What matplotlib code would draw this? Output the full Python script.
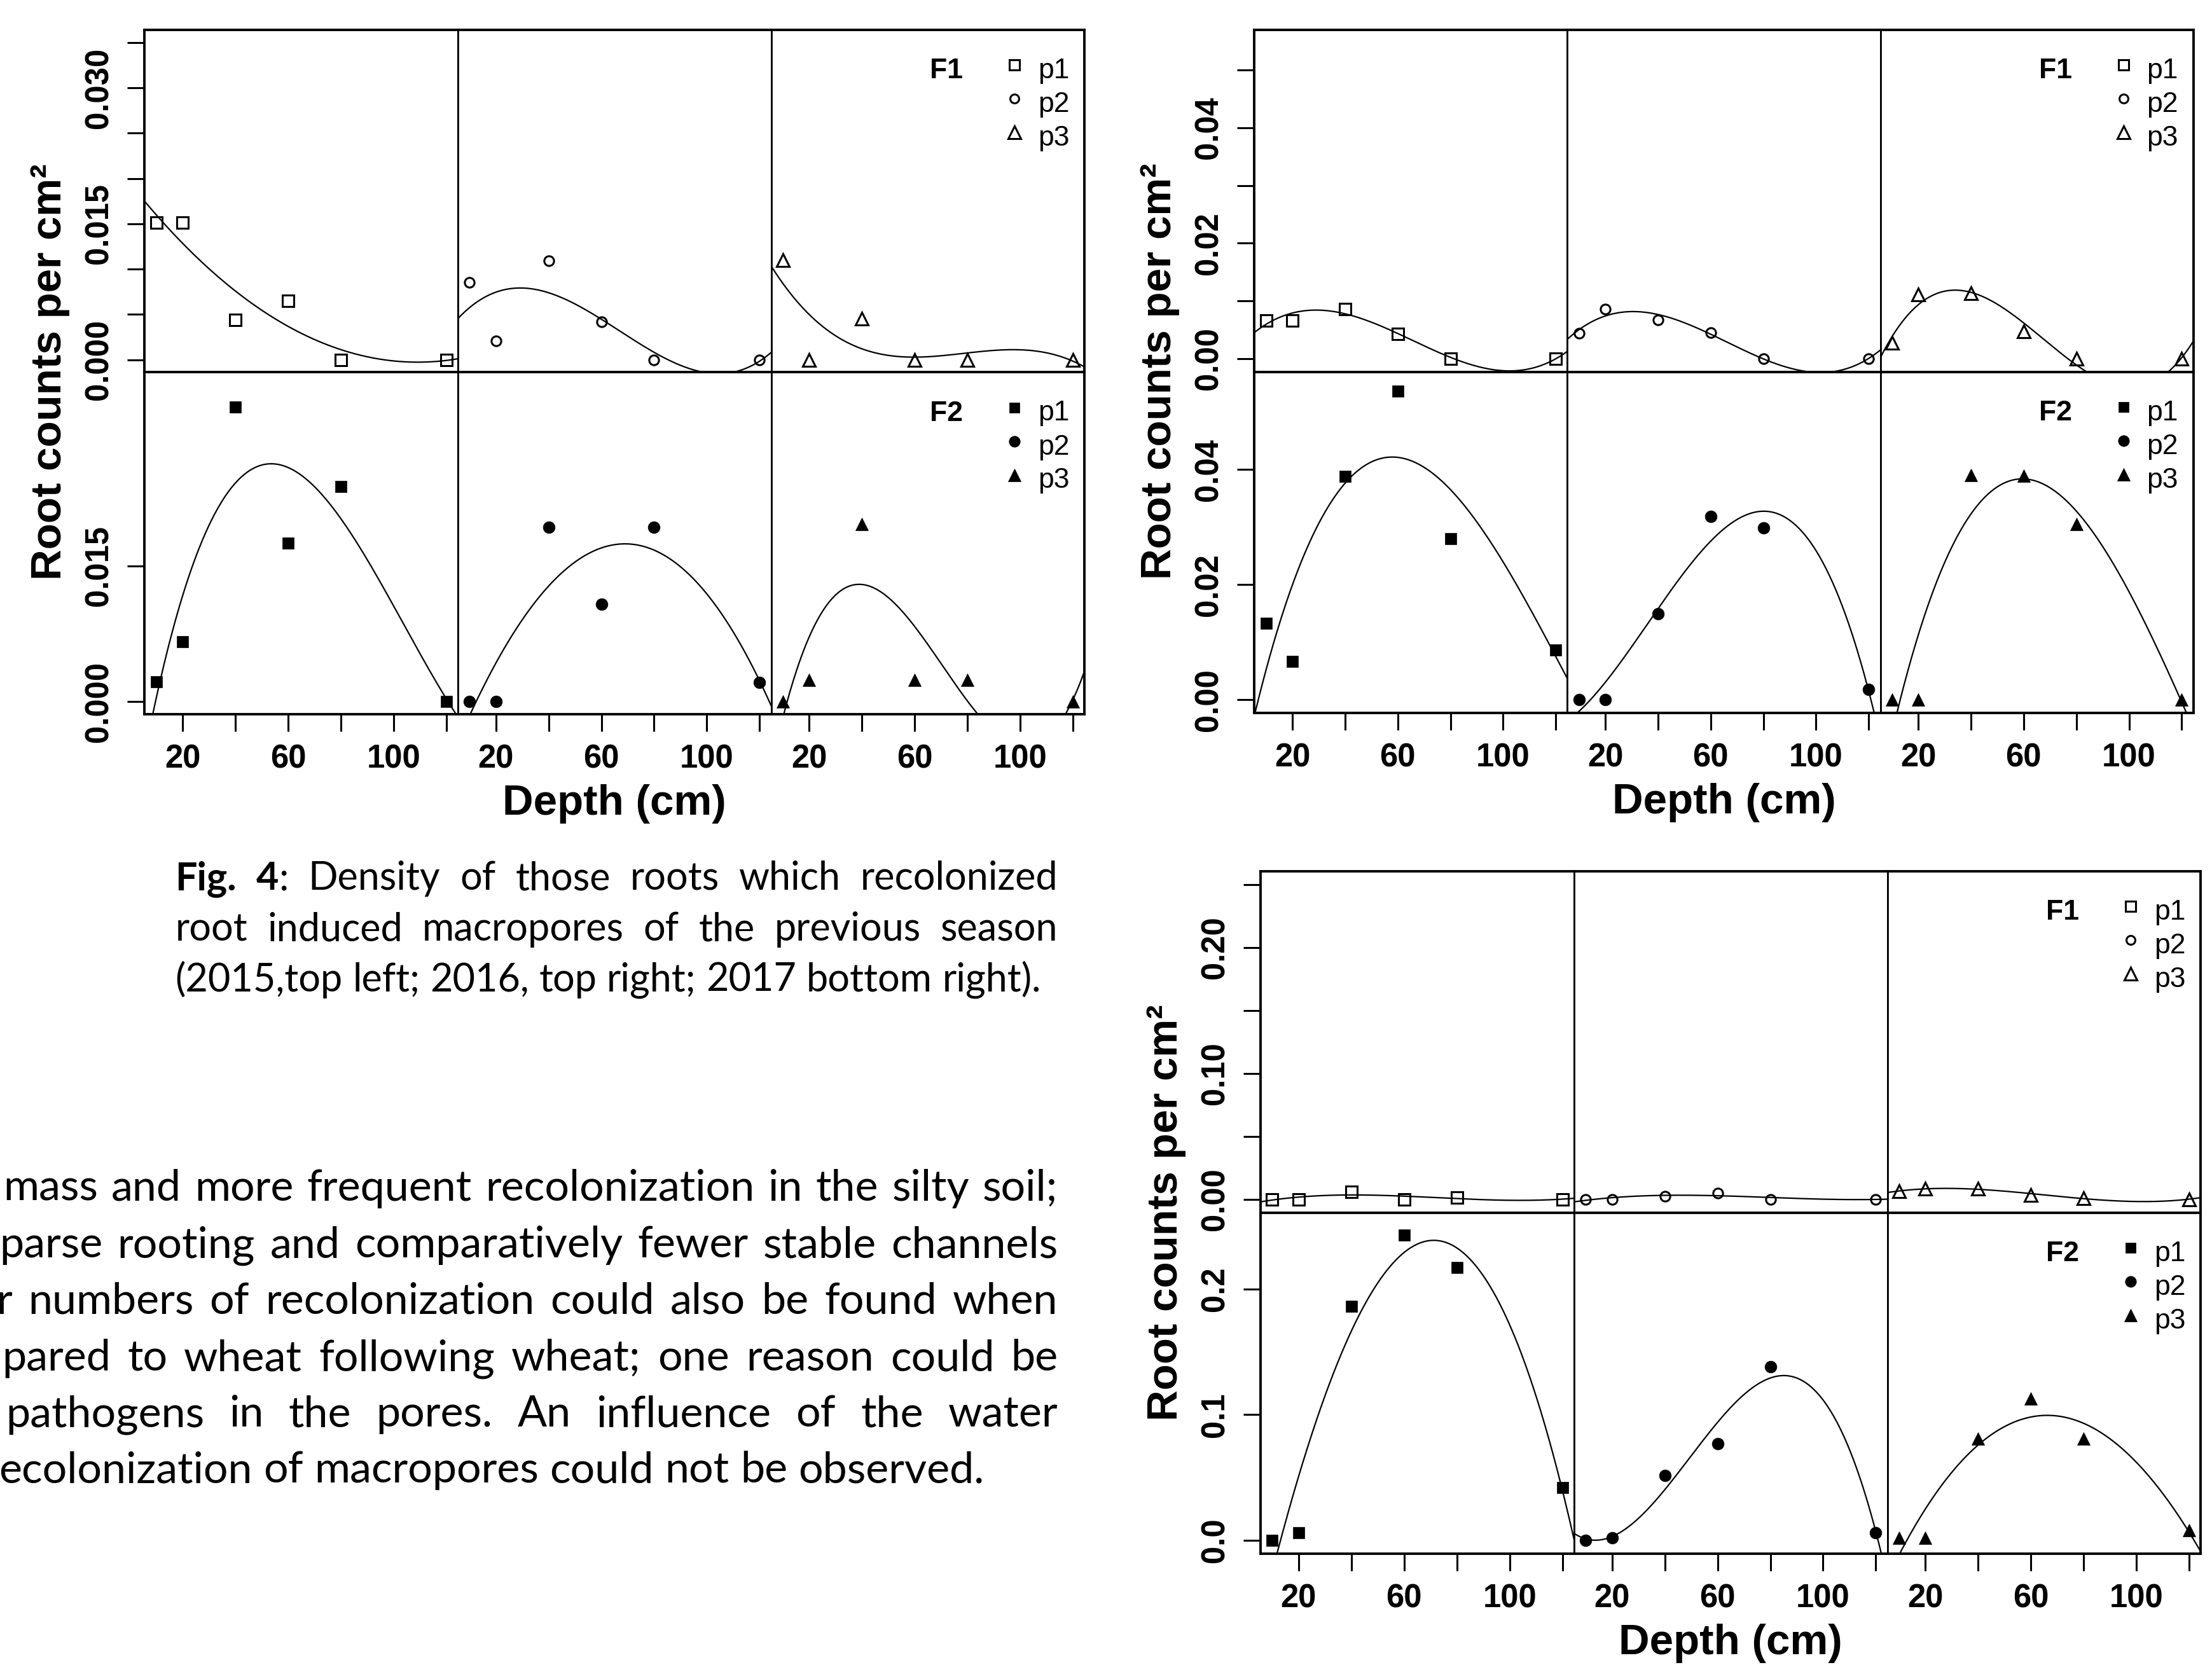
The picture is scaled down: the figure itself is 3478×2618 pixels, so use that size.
import numpy as np
import matplotlib
matplotlib.use("Agg")
import matplotlib.pyplot as plt

W, H = 3478, 2618
PLOT_FONT = ["Liberation Sans", "DejaVu Sans"]
TEXT_FONT = ["Lato", "DejaVu Sans"]

# ---- data: root counts per cm2 by depth (cm), columns p1 / p2 / p3 ----
depth = [10, 20, 40, 60, 80, 120]
pos_labels = ["p1", "p2", "p3"]
x_ticks = [20, 40, 60, 80, 100, 120]
x_labels = ["20", "", "60", "", "100", ""]

# 2015 (top left)
y2015_F1 = [[0.0151, 0.0151, 0.0044, 0.0065, 0.0, 0.0],
            [0.0085, 0.0021, 0.0109, 0.0042, 0.0, 0.0],
            [0.0110, 0.0, 0.0045, 0.0, 0.0, 0.0]]
y2015_F2 = [[0.0022, 0.0066, 0.0326, 0.0175, 0.0238, 0.0],
            [0.0, 0.0, 0.0193, 0.0108, 0.0193, 0.0021],
            [0.0, 0.0024, 0.0196, 0.0024, 0.0024, 0.0]]
# 2016 (top right)
y2016_F1 = [[0.0066, 0.0066, 0.0086, 0.0043, 0.0, 0.0],
            [0.0044, 0.0086, 0.0067, 0.0045, 0.0, 0.0],
            [0.0027, 0.0111, 0.0113, 0.0047, 0.0, 0.0]]
y2016_F2 = [[0.0133, 0.0066, 0.0388, 0.0536, 0.0280, 0.0086],
            [0.0, 0.0, 0.0150, 0.0319, 0.0299, 0.0018],
            [0.0, 0.0, 0.0390, 0.0389, 0.0305, 0.0]]
# 2017 (bottom right)
y2017_F1 = [[0.0, 0.0, 0.0060, 0.0, 0.0015, 0.0],
            [0.0, 0.0, 0.0025, 0.0050, 0.0, 0.0],
            [0.0064, 0.0084, 0.0084, 0.0035, 0.0010, 0.0]]
y2017_F2 = [[0.0, 0.006, 0.186, 0.243, 0.217, 0.042],
            [0.0, 0.002, 0.0515, 0.077, 0.138, 0.006],
            [0.002, 0.002, 0.081, 0.113, 0.081, 0.008]]

ticks2015 = [[0, 0.005, 0.010, 0.015, 0.020, 0.025, 0.030, 0.035], [0, 0.015]]
labels2015 = [["0.000", "", "", "0.015", "", "", "0.030", ""], ["0.000", "0.015"]]
ticks2016 = [[0, 0.01, 0.02, 0.03, 0.04, 0.05], [0, 0.02, 0.04]]
labels2016 = [["0.00", "", "0.02", "", "0.04", ""], ["0.00", "0.02", "0.04"]]
ticks2017 = [[0, 0.05, 0.10, 0.15, 0.20, 0.25], [0, 0.1, 0.2]]
labels2017 = [["0.00", "", "0.10", "", "0.20", ""], ["0.0", "0.1", "0.2"]]

caption_lines = [
    [[("Fig.", "bold")], [("4", "bold"), (":", "normal")], "Density", "of", "those",
     "roots", "which", "recolonized"],
    "root induced macropores of the previous season".split(),
    "(2015,top left; 2016, top right; 2017 bottom right).".split(),
]
body_lines = [
    "mass and more frequent recolonization in the silty soil;",
    "parse rooting and comparatively fewer stable channels",
    "r numbers of recolonization could also be found when",
    "pared to wheat following wheat; one reason could be",
    "pathogens in the pores. An influence of the water",
    "ecolonization of macropores could not be observed.",
]

# ---- layout helpers (pixel coords of the full image) ----
fig = plt.figure(figsize=(W / 100, H / 100), dpi=100)
fig.patch.set_facecolor("white")


def fx(px):
    return px / W


def fy(py):
    return 1 - py / H


XLIM = (5.6, 124.4)
MARKERS = ["s", "o", "^"]
MS_OPEN = [12.5, 11.0, 15.0]
MS_FILL = [13.0, 13.5, 15.0]
TICK_FS = 36.5


def draw_group(box, rows_data, yticks, ylabels, ylim, tags=("F1", "F2")):
    left, right, top, mid, bottom = box
    cw = (right - left) / 3
    for r, (t, b) in enumerate([(top, mid), (mid, bottom)]):
        for c in range(3):
            l = left + c * cw
            ax = fig.add_axes([fx(l), fy(b), cw / W, (b - t) / H])
            yv = rows_data[r][c]
            if r == 0:
                ax.plot(depth, yv, ls="none", marker=MARKERS[c], ms=MS_OPEN[c],
                        mfc="none", mec="black", mew=2.2, clip_on=False)
            else:
                ax.plot(depth, yv, ls="none", marker=MARKERS[c], ms=MS_FILL[c],
                        mfc="black", mec="black", mew=0.5, clip_on=False)
            coef = np.polyfit(depth, yv, 3)
            xs = np.linspace(XLIM[0], XLIM[1], 400)
            ax.plot(xs, np.polyval(coef, xs), color="black", lw=1.6)
            ax.set_xlim(XLIM)
            ax.set_ylim(ylim)
            for name, sp in ax.spines.items():
                sp.set_linewidth(2.0)
            ax.spines["top"].set_linewidth(2.8)
            ax.spines["bottom"].set_linewidth(2.8)
            if c == 0:
                ax.spines["left"].set_linewidth(2.8)
            if c == 2:
                ax.spines["right"].set_linewidth(2.8)
            if r == 1:
                ax.set_xticks(x_ticks)
                ax.set_xticklabels(x_labels, fontsize=TICK_FS, fontweight="bold",
                                   family=PLOT_FONT)
            else:
                ax.set_xticks([])
            if c == 0:
                ax.set_yticks(yticks[r])
                ax.set_yticklabels(ylabels[r], rotation=90, va="center",
                                   fontsize=TICK_FS, fontweight="bold", family=PLOT_FONT)
            else:
                ax.set_yticks([])
            ax.tick_params(direction="out", length=19.5, width=2.2, pad=14)

            # key in the right-hand panel
            if c == 2:
                rx = right
                rows_y = [t + 55, t + 108, t + 161]
                fig.text(fx(rx - 217), fy(rows_y[0] + 21), tags[r], ha="center",
                         va="baseline", fontsize=32, fontweight="bold", family=PLOT_FONT)
                for k in range(3):
                    if r == 0:
                        fig.add_artist(plt.Line2D([fx(rx - 110)], [fy(rows_y[k])],
                                                  marker=MARKERS[k], ms=MS_OPEN[k] - 1,
                                                  mfc="none", mec="black", mew=2.2,
                                                  ls="none"))
                    else:
                        fig.add_artist(plt.Line2D([fx(rx - 110)], [fy(rows_y[k])],
                                                  marker=MARKERS[k], ms=MS_FILL[k] - 1,
                                                  mfc="black", mec="black", mew=0.5,
                                                  ls="none"))
                    fig.text(fx(rx - 73), fy(rows_y[k] + 21), pos_labels[k], ha="left",
                             va="baseline", fontsize=32, family=PLOT_FONT)

    fig.text(fx(left - 148), fy((top + bottom) / 2), "Root counts per cm²", rotation=90,
             ha="center", va="center", fontsize=48.5, fontweight="bold", family=PLOT_FONT)
    fig.text(fx((left + right) / 2), fy(bottom + 141), "Depth (cm)", ha="center",
             va="center", fontsize=48.5, fontweight="bold", family=PLOT_FONT)


draw_group((227.5, 1705, 47, 585.5, 1123), [y2015_F1, y2015_F2],
           ticks2015, labels2015, (-0.0014, 0.0364))
draw_group((1972.4, 3448.6, 47, 584.6, 1121), [y2016_F1, y2016_F2],
           ticks2016, labels2016, (-0.0023, 0.0570))
draw_group((1982.2, 3460.4, 1370.3, 1907, 2443.4), [y2017_F1, y2017_F2],
           ticks2017, labels2017, (-0.0108, 0.2605))

# ---- caption and body text, justified like the page ----
renderer = fig.canvas.get_renderer()


def text_width(s, size, weight="normal"):
    t = fig.text(0, 0, s, fontsize=size, fontweight=weight, family=TEXT_FONT)
    w = t.get_window_extent(renderer).width
    t.remove()
    return w


def put_line(words, x0, x1, base, size, justify=True):
    words = [[(w, "normal")] if isinstance(w, str) else w for w in words]
    arts, widths = [], []
    for word in words:
        segs, ws = [], []
        for s, wt in word:
            t = fig.text(0, 0, s, fontsize=size, fontweight=wt, family=TEXT_FONT,
                         va="baseline", ha="left")
            segs.append(t)
            ws.append(t.get_window_extent(renderer).width)
        arts.append(segs)
        widths.append(ws)
    total = sum(sum(ws) for ws in widths)
    if justify and len(words) > 1:
        gap = (x1 - x0 - total) / (len(words) - 1)
    else:
        gap = text_width("a a", size) - text_width("aa", size)
    x = x0
    for segs, ws in zip(arts, widths):
        for t, w in zip(segs, ws):
            t.set_position((fx(x), fy(base)))
            x += w
        x += gap


cap_fs = 40 * 1360 / text_width(" ".join(caption_lines[2]), 40)
body_fs = 40 * 1548 / text_width(body_lines[5], 40)

cap_base = [1399, 1479, 1559]
put_line(caption_lines[0], 275.5, 1663.5, cap_base[0], cap_fs)
put_line(caption_lines[1], 275.5, 1663.5, cap_base[1], cap_fs)
put_line(caption_lines[2], 275.5, 1663.5, cap_base[2], cap_fs, justify=False)

body_base = [1888, 1977, 2066, 2155, 2243, 2331]
body_x0 = [5, -1, -6, 3, 9, -2]
for i, line in enumerate(body_lines):
    put_line(line.split(), body_x0[i], 1663.5, body_base[i], body_fs,
             justify=(i < len(body_lines) - 1))

fig.savefig("out.png", dpi=100, facecolor="white")
